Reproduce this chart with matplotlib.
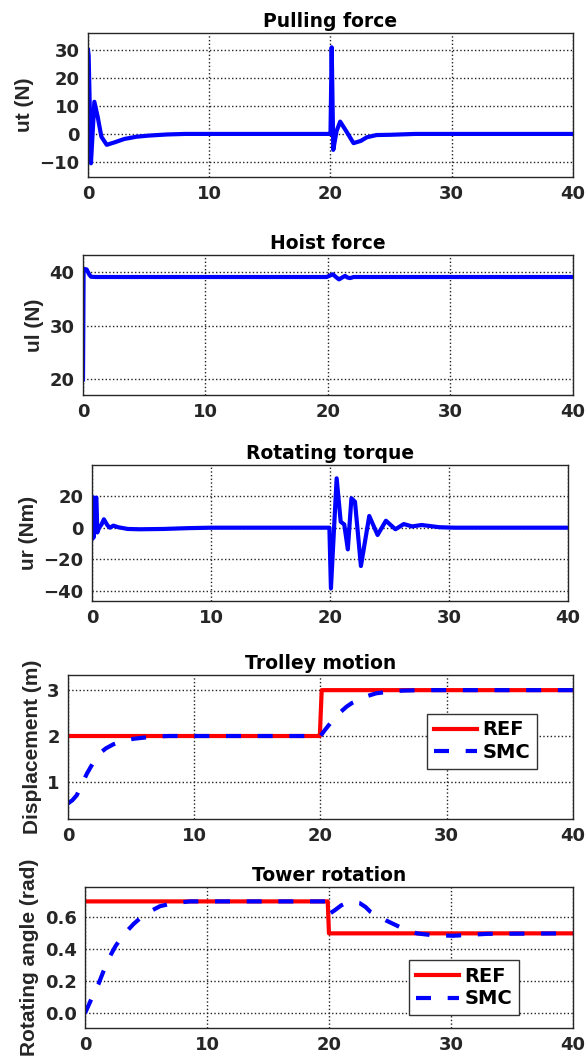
import matplotlib
matplotlib.use("Agg")
import matplotlib.pyplot as plt

plt.rcParams['font.family'] = ['DejaVu Sans']
plt.rcParams['font.weight'] = 'bold'

# --- Pulling force ---
t_ut = [0, 0.05, 0.24, 0.52, 0.8, 1.1, 1.54, 2.2, 3.0, 4.0, 5.0, 6.5, 8, 19.95,
        20.0, 20.1, 20.23, 20.5, 20.8, 21.3, 21.9, 22.5, 23.0, 23.8, 25, 27, 40]
ut = [30, 28, -10.5, 11.5, 6, -1, -3.9, -3.0, -1.8, -1.0, -0.6, -0.2, 0, 0,
      0, 31, -5.7, 1, 4.4, 1, -3.3, -2.5, -1.2, -0.4, -0.3, 0, 0]

# --- Hoist force ---
t_ul = [0, 0.05, 0.1, 0.3, 0.5, 0.65, 1.0, 19.9, 20.1, 20.4, 20.65, 20.9, 21.15,
        21.4, 21.6, 21.8, 22.1, 22.5, 40]
ul = [20, 40.6, 40.6, 40.5, 39.6, 39.15, 39.1, 39.1, 39.3, 39.6, 39.1, 38.65, 39.0,
      39.3, 39.0, 38.9, 39.1, 39.1, 39.1]

# --- Rotating torque ---
t_ur = [0, 0.05, 0.1, 0.15, 0.2, 0.3, 0.37, 0.45, 0.6, 0.8, 1.0, 1.3, 1.5, 1.8,
        2.2, 3.0, 4.0, 6.0, 8.0, 10.0, 19.95, 20.08, 20.56, 20.9, 21.2, 21.5, 21.8,
        22.1, 22.6, 23.3, 24.0, 24.7, 25.5, 26.2, 26.9, 27.7, 29.2, 30.5, 40]
ur = [19, -7, 18, -6, 19, 18, 19, -3, 0, 2, 5.3, 1.5, 0, 1.3,
      0.3, -0.8, -1, -0.8, -0.3, 0, 0, -38.3, 31.2, 3.8, 2, -13.7, 18.6,
      16.4, -24.2, 7.4, -4.6, 4.4, -1, 2.3, 0.8, 1.7, 0.3, 0, 0]

# --- Trolley motion ---
t_ref_tr = [0, 19.95, 20.1, 40]
ref_tr = [2, 2, 3, 3]
t_smc_tr = [0, 0.35, 0.7, 1.1, 1.5, 2.0, 2.5, 3.0, 3.6, 4.3, 5.2, 6.2, 7, 8, 20.0,
            20.35, 20.7, 21.0, 21.5, 22.07, 22.5, 23, 23.7, 24.4, 25.5, 26.5, 28, 40]
smc_tr = [0.53, 0.6, 0.71, 0.95, 1.18, 1.42, 1.62, 1.73, 1.82, 1.89, 1.94, 1.97, 1.99, 2.0, 2.0,
          2.13, 2.25, 2.35, 2.5, 2.64, 2.72, 2.78, 2.87, 2.93, 2.97, 2.99, 3.0, 3.0]

# --- Tower rotation ---
t_ref_rot = [0, 19.9, 20.0, 40]
ref_rot = [0.7, 0.7, 0.5, 0.5]
t_smc_rot = [0, 0.41, 0.75, 1.09, 1.5, 2.0, 2.5, 3.14, 4.0, 4.9, 6.15, 7.3, 8.6, 20.0,
             20.1, 20.5, 21.0, 21.4, 22.0, 22.5, 23.0, 23.4, 24.0, 24.7, 25.8, 26.5,
             27.2, 28.3, 29.2, 30.2, 31.3, 33, 40]
smc_rot = [0, 0.07, 0.13, 0.18, 0.26, 0.35, 0.42, 0.49, 0.56, 0.62, 0.67, 0.69, 0.70, 0.70,
           0.625, 0.646, 0.675, 0.69, 0.695, 0.69, 0.665, 0.635, 0.61, 0.58, 0.54, 0.52,
           0.50, 0.49, 0.487, 0.485, 0.49, 0.497, 0.5]

xticks = [0, 10, 20, 30, 40]

fig = plt.figure(figsize=(5.87, 10.59), dpi=100)

# axes boxes [left, bottom, width, height] in figure fraction
boxes = [
    [0.150, 0.8329, 0.826, 0.1359],
    [0.1414, 0.6270, 0.8346, 0.1322],
    [0.1567, 0.4325, 0.8109, 0.1284],
    [0.1158, 0.2266, 0.8602, 0.1360],
    [0.1448, 0.0293, 0.8312, 0.1331],
]
axs = [fig.add_axes(b) for b in boxes]

lw = 3
blue = '#0000FF'
red = '#FF0000'
dash = (0, (3.6, 4))
leg_kw = dict(fontsize=14, fancybox=False, framealpha=1, edgecolor='#333333',
              handlelength=2.2, handletextpad=0.3, borderpad=0.35, labelspacing=0.2)

axs[0].plot(t_ut, ut, color=blue, lw=lw)
axs[0].set_ylim(-15.4, 36.1)
axs[0].set_yticks([-10, 0, 10, 20, 30])
axs[0].set_ylabel('ut (N)')
axs[0].set_title('Pulling force')

axs[1].plot(t_ul, ul, color=blue, lw=lw)
axs[1].set_ylim(17.1, 43.2)
axs[1].set_yticks([20, 30, 40])
axs[1].set_ylabel('ul (N)')
axs[1].set_title('Hoist force')

axs[2].plot(t_ur, ur, color=blue, lw=lw)
axs[2].set_ylim(-46.3, 39.6)
axs[2].set_yticks([-40, -20, 0, 20])
axs[2].set_ylabel('ur (Nm)')
axs[2].set_title('Rotating torque')

axs[3].plot(t_ref_tr, ref_tr, color=red, lw=lw, label='REF')
axs[3].plot(t_smc_tr, smc_tr, color=blue, lw=lw, linestyle=dash, label='SMC')
axs[3].set_ylim(0.19, 3.33)
axs[3].set_yticks([1, 2, 3])
axs[3].set_ylabel('Displacement (m)')
axs[3].set_title('Trolley motion')
axs[3].legend(loc='upper right', bbox_to_anchor=(0.948, 0.80), **leg_kw)

axs[4].plot(t_ref_rot, ref_rot, color=red, lw=lw, label='REF')
axs[4].plot(t_smc_rot, smc_rot, color=blue, lw=lw, linestyle=dash, label='SMC')
axs[4].set_ylim(-0.092, 0.79)
axs[4].set_yticks([0, 0.2, 0.4, 0.6])
axs[4].set_ylabel('Rotating angle (rad)')
axs[4].set_title('Tower rotation')
axs[4].legend(loc='upper right', bbox_to_anchor=(0.910, 0.553), **leg_kw)

for ax in axs:
    ax.set_xlim(0, 40)
    ax.set_xticks(xticks)
    ax.grid(True, linestyle=':', color='#222222', linewidth=1.0)
    ax.tick_params(direction='in', length=0, labelsize=13, pad=6, colors='#262626')
    ax.set_ylabel(ax.get_ylabel(), fontsize=15, fontweight='bold', labelpad=4,
                  family=['Liberation Sans', 'DejaVu Sans'], color='#262626')
    ax.set_title(ax.get_title(), fontsize=13.5, fontweight='bold', pad=4)
    for s in ax.spines.values():
        s.set_color('#262626')
        s.set_linewidth(1.0)
    for lab in ax.get_xticklabels() + ax.get_yticklabels():
        lab.set_fontweight('bold')

fig.savefig('out.png', dpi=100)
